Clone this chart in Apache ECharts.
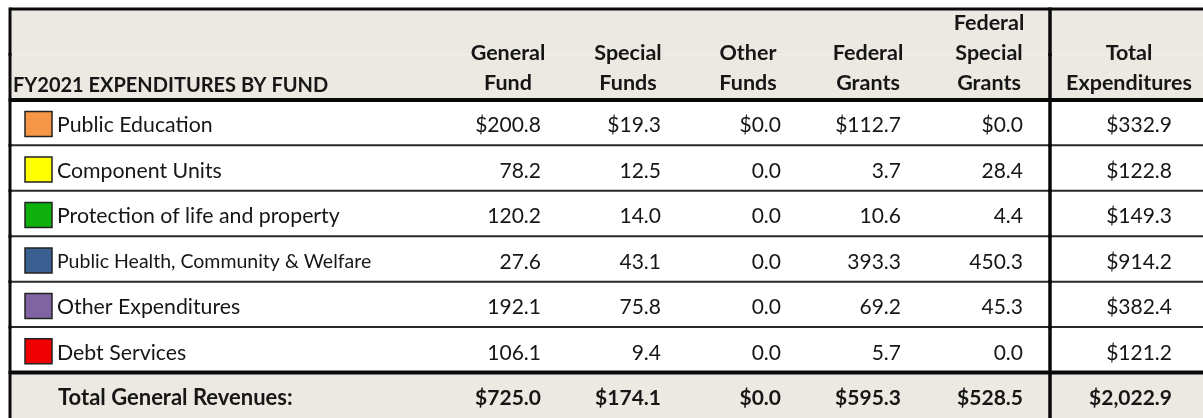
<!DOCTYPE html>
<html>
<head>
<meta charset="utf-8">
<script src="https://cdn.jsdelivr.net/npm/echarts@6.0.0/dist/echarts.min.js"></script>
<style>
  html, body { margin: 0; padding: 0; background: #fff; }
  #chart { width: 1203px; height: 418px; }
</style>
</head>
<body>
<div id="chart"></div>
<script>
// data
const title = 'FY2021 EXPENDITURES BY FUND'
const columns = ['General\nFund', 'Special\nFunds', 'Other\nFunds', 'Federal\nGrants', 'Federal\nSpecial\nGrants', 'Total\nExpenditures']
const categories = ['Public Education', 'Component Units', 'Protection of life and property', 'Public Health, Community & Welfare', 'Other Expenditures', 'Debt Services']
const generalFund = [200.8, 78.2, 120.2, 27.6, 192.1, 106.1]
const specialFunds = [19.3, 12.5, 14.0, 43.1, 75.8, 9.4]
const otherFunds = [0.0, 0.0, 0.0, 0.0, 0.0, 0.0]
const federalGrants = [112.7, 3.7, 10.6, 393.3, 69.2, 5.7]
const federalSpecialGrants = [0.0, 28.4, 4.4, 450.3, 45.3, 0.0]
const totalExpenditures = [332.9, 122.8, 149.3, 914.2, 382.4, 121.2]
const totalLabel = 'Total General Revenues:'
const totalRow = [725.0, 174.1, 0.0, 595.3, 528.5, 2022.9]

// layout / style
const colEdges = [10, 448, 568, 688, 808, 928, 1050, 1214] // column borders on the x axis
const rightPad = [0, 27, 27, 27, 27, 27, 42]
const swatchColors = ['#F79646', '#FFFF00', '#0DB00D', '#3A6091', '#8064A2', '#F00000']
const FONT = 'Lato, "Noto Sans", sans-serif'
const TEXT = '#161616'
const SHADE = '#ECE9E2'

const bands = ['head-a', 'head-b'].concat(categories, [totalLabel])
const lastBand = bands.length - 1
const fundCols = [generalFund, specialFunds, otherFunds, federalGrants, federalSpecialGrants, totalExpenditures]

const money = (v, dollar) => (dollar ? '$' : '') + v.toLocaleString('en-US', { minimumFractionDigits: 1, maximumFractionDigits: 1 })

// cells: value = [column index, band index]
const cells = []
cells.push({ value: [0, 1], text: title, kind: 'title' })
columns.forEach((c, i) => cells.push({ value: [i + 1, 1], text: c, kind: 'head' }))
categories.forEach((name, r) => {
  cells.push({ value: [0, r + 2], text: name, kind: 'label', color: swatchColors[r] })
  fundCols.forEach((arr, i) => {
    cells.push({ value: [i + 1, r + 2], text: money(arr[r], r === 0 || i === 5), kind: 'num' })
  })
})
cells.push({ value: [0, lastBand], text: totalLabel, kind: 'totalLabel' })
totalRow.forEach((v, i) => cells.push({ value: [i + 1, lastBand], text: money(v, true), kind: 'totalNum' }))

function bandBox (api, band) {
  const h = api.size([0, 1])[1]
  const cy = api.coord([0, band])[1]
  return { top: cy - h / 2, bottom: cy + h / 2, cy, h }
}
const xAt = (api, v) => api.coord([v, 0])[0]

function renderRow (params, api) {
  const band = api.value(0)
  const b = bandBox(api, band)
  const x0 = xAt(api, colEdges[0])
  const x1 = xAt(api, colEdges[colEdges.length - 1])
  const xDiv = xAt(api, colEdges[6])
  const shaded = band < 2 || band === lastBand
  const children = [{
    type: 'rect',
    z2: 0,
    shape: { x: x0, y: b.top, width: x1 - x0, height: b.h },
    style: { fill: shaded ? SHADE : '#fff' }
  }]
  if (band !== 0 && band !== lastBand) {
    const thick = band === 1 || band === lastBand - 1
    children.push({
      type: 'line',
      z2: 10,
      shape: { x1: x0, y1: b.bottom, x2: x1, y2: b.bottom },
      style: { stroke: thick ? '#0a0a0a' : '#2a2a2a', lineWidth: thick ? 4 : 2 }
    })
  }
  if (band === 0) {
    children.push({
      type: 'line',
      z2: 10,
      shape: { x1: x0, y1: b.top, x2: x1, y2: b.top },
      style: { stroke: '#0a0a0a', lineWidth: 3 }
    })
  }
  children.push({
    type: 'line',
    z2: 11,
    shape: { x1: x0, y1: b.top - 1.5, x2: x0, y2: b.bottom + 1.5 },
    style: { stroke: '#0a0a0a', lineWidth: 3 }
  })
  children.push({
    type: 'line',
    z2: 11,
    shape: { x1: xDiv, y1: b.top - 1.5, x2: xDiv, y2: b.bottom + 1.5 },
    style: { stroke: '#0a0a0a', lineWidth: 3.5 }
  })
  return { type: 'group', children }
}

function renderCell (params, api) {
  const cell = cells[params.dataIndex]
  const col = api.value(0)
  const band = api.value(1)
  const b = bandBox(api, band)
  const left = xAt(api, colEdges[col])
  const right = xAt(api, colEdges[col + 1])
  const midY = b.cy + 3
  const base = { fill: TEXT, fontFamily: FONT, fontSize: 21 }
  if (cell.kind === 'title') {
    return {
      type: 'text',
      style: Object.assign({}, base, { text: cell.text, x: left + 3, y: b.bottom - 2, align: 'left', verticalAlign: 'bottom', lineHeight: 24, fontSize: 20, fontWeight: 'bold' })
    }
  }
  if (cell.kind === 'head') {
    const cx = col === 6 ? (left + right) / 2 - 3 : (left + right) / 2
    return {
      type: 'text',
      style: Object.assign({}, base, { text: cell.text, x: cx, y: b.bottom - 2, align: 'center', verticalAlign: 'bottom', lineHeight: 30, fontSize: 21.5, fontWeight: 'bold' })
    }
  }
  if (cell.kind === 'label') {
    const small = cell.text.length > 32
    return {
      type: 'group',
      children: [
        {
          type: 'rect',
          shape: { x: left + 15, y: b.cy - 11, width: 27, height: 25 },
          style: { fill: cell.color, stroke: '#222', lineWidth: 1.5 }
        },
        {
          type: 'text',
          style: Object.assign({}, base, { text: cell.text, x: left + 47, y: midY, align: 'left', verticalAlign: 'middle', fontSize: small ? 19.5 : 21.3 })
        }
      ]
    }
  }
  if (cell.kind === 'totalLabel') {
    return {
      type: 'text',
      style: Object.assign({}, base, { text: cell.text, x: left + 48, y: midY, align: 'left', verticalAlign: 'middle', fontSize: 22, fontWeight: 'bold' })
    }
  }
  return {
    type: 'text',
    style: Object.assign({}, base, {
      text: cell.text,
      x: right - rightPad[col],
      y: midY,
      align: 'right',
      verticalAlign: 'middle',
      fontWeight: cell.kind === 'totalNum' ? 'bold' : 'normal'
    })
  }
}

const chart = echarts.init(document.getElementById('chart'))
chart.setOption({
  animation: false,
  backgroundColor: '#fff',
  grid: { left: 0, right: 0, top: 9, height: 414 },
  xAxis: { type: 'value', min: 0, max: 1203, show: false },
  yAxis: { type: 'category', data: bands, inverse: true, show: false },
  series: [
    {
      name: 'rows',
      type: 'custom',
      renderItem: renderRow,
      data: bands.map((_, i) => [i]),
      encode: { y: 0 },
      silent: true
    },
    {
      name: 'cells',
      type: 'custom',
      z: 5,
      renderItem: renderCell,
      data: cells,
      encode: { x: 0, y: 1 },
      silent: true
    }
  ]
})
</script>
</body>
</html>
